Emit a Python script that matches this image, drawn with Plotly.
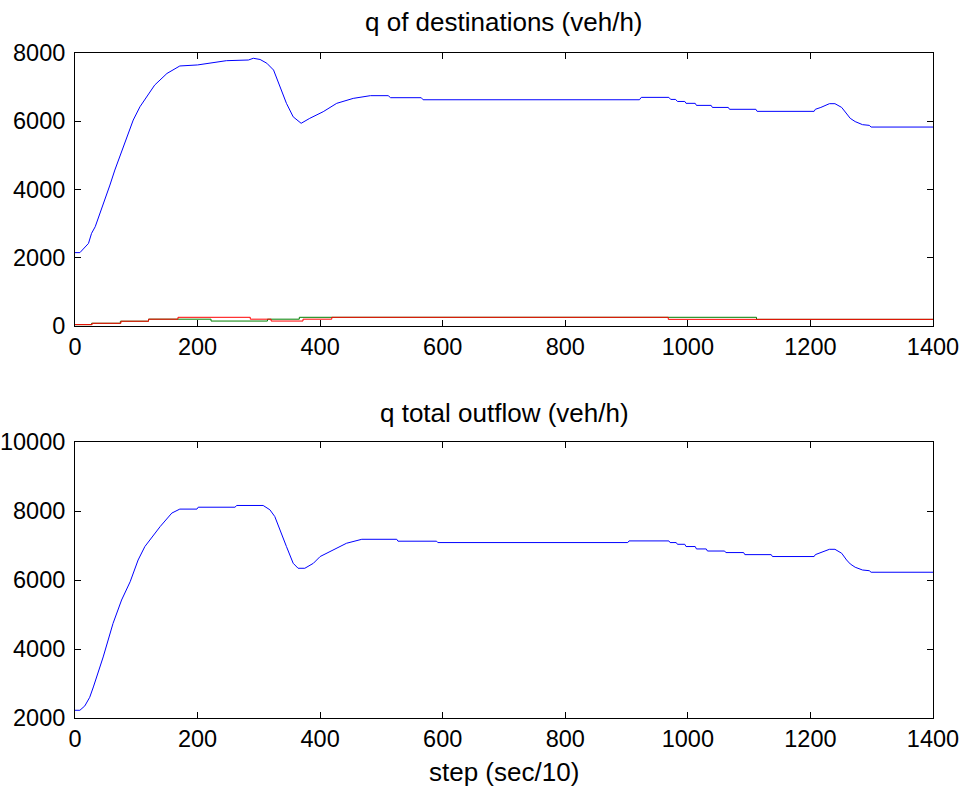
import plotly.graph_objects as go

# ---------------- data ----------------
top_blue_x = [0, 8, 22, 27, 33, 41, 49, 57, 65, 73, 79, 87, 95, 106, 117, 130, 150, 171, 200, 223,
              247, 283, 291, 302, 313, 324, 334, 345, 356, 369, 383, 405, 427, 454, 482, 511, 515,
              565, 568, 921, 924, 969, 972, 980, 983, 995, 997, 1012, 1014, 1038, 1040, 1066, 1068,
              1111, 1113, 1206, 1208, 1217, 1231, 1240, 1251, 1259, 1265, 1273, 1285, 1296, 1299, 1400]
top_blue_y = [2150, 2150, 2420, 2715, 2910, 3300, 3690, 4130, 4570, 4960, 5300, 5650, 6035, 6425, 6720,
              7060, 7400, 7620, 7650, 7715, 7775, 7795, 7845, 7810, 7700, 7500, 7010, 6525, 6130, 5940,
              6085, 6280, 6525, 6670, 6750, 6750, 6690, 6690, 6630, 6630, 6700, 6700, 6640, 6640, 6580,
              6580, 6525, 6525, 6465, 6465, 6405, 6405, 6350, 6350, 6290, 6290, 6350, 6405, 6515, 6515,
              6405, 6230, 6085, 5990, 5900, 5880, 5830, 5830]

top_green_x = [0, 27, 74, 120, 222, 314, 366, 1112, 1400]
top_green_y = [40, 80, 140, 200, 145, 200, 255, 195, 195]

top_red_x = [0, 28, 75, 120, 168, 286, 320, 372, 419, 968, 1400]
top_red_y = [40, 80, 140, 200, 255, 200, 145, 200, 255, 195, 195]

bot_x = [0, 8, 16, 24, 30, 46, 62, 76, 90, 103, 114, 130, 139, 158, 171, 199, 201, 261, 264, 307,
         318, 326, 334, 345, 356, 364, 375, 389, 400, 416, 443, 468, 525, 527, 590, 592, 902, 904,
         969, 971, 981, 983, 995, 997, 1012, 1014, 1030, 1032, 1060, 1062, 1091, 1093, 1136, 1138,
         1206, 1208, 1217, 1231, 1240, 1251, 1259, 1265, 1273, 1285, 1296, 1299, 1400]
bot_y = [2224, 2224, 2350, 2600, 2900, 3770, 4740, 5420, 5950, 6580, 6970, 7360, 7550, 7940, 8055,
         8055, 8110, 8110, 8160, 8160, 8035, 7840, 7450, 6970, 6485, 6340, 6340, 6485, 6680, 6820,
         7065, 7180, 7180, 7125, 7125, 7085, 7085, 7133, 7133, 7085, 7085, 7035, 7035, 6970, 6970,
         6900, 6900, 6840, 6840, 6795, 6795, 6735, 6735, 6680, 6680, 6735, 6805, 6890, 6890, 6775,
         6580, 6465, 6370, 6290, 6270, 6225, 6225]

x_ticks = [0, 200, 400, 600, 800, 1000, 1200, 1400]
top_y_ticks = [0, 2000, 4000, 6000, 8000]
bot_y_ticks = [2000, 4000, 6000, 8000, 10000]

title_top = "q of destinations (veh/h)"
title_bot = "q total outflow (veh/h)"
xlabel_bot = "step (sec/10)"

# ---------------- figure ----------------
FONT = "Liberation Sans, Arial, sans-serif"
TICK_SIZE = 23.5
LABEL_SIZE = 26

fig = go.Figure()
fig.add_trace(go.Scatter(x=top_blue_x, y=top_blue_y, mode="lines",
                         line=dict(color="rgb(0,0,255)", width=1), xaxis="x", yaxis="y"))
fig.add_trace(go.Scatter(x=top_green_x, y=top_green_y, mode="lines",
                         line=dict(color="rgb(0,128,0)", width=1, shape="hv"), xaxis="x", yaxis="y"))
fig.add_trace(go.Scatter(x=top_red_x, y=top_red_y, mode="lines",
                         line=dict(color="rgb(255,0,0)", width=1, shape="hv"), xaxis="x", yaxis="y"))
fig.add_trace(go.Scatter(x=bot_x, y=bot_y, mode="lines",
                         line=dict(color="rgb(0,0,255)", width=1), xaxis="x2", yaxis="y2"))

H = 792
top_px, bot_px = 53, 718
area = bot_px - top_px


def py(p):
    return (bot_px - p) / area


axis_common = dict(showgrid=False, zeroline=False, showline=True, mirror="ticks",
                   linecolor="black", linewidth=1, ticks="inside", ticklen=6,
                   tickcolor="black", tickwidth=1, automargin=False,
                   tickfont=dict(family=FONT, size=TICK_SIZE, color="black"))

fig.update_layout(
    width=967, height=H,
    margin=dict(l=75, r=34, t=top_px, b=H - bot_px),
    paper_bgcolor="white", plot_bgcolor="white",
    showlegend=False,
    xaxis=dict(domain=[0, 1], range=[0, 1400], tickvals=x_ticks,
               ticktext=[str(v) for v in x_ticks], anchor="y", **axis_common),
    yaxis=dict(domain=[py(326), 1], range=[0, 8000], tickvals=top_y_ticks,
               ticktext=[str(v) for v in top_y_ticks], anchor="x", ticklabelstandoff=4,
               **axis_common),
    xaxis2=dict(domain=[0, 1], range=[0, 1400], tickvals=x_ticks,
                ticktext=[str(v) for v in x_ticks], anchor="y2", **axis_common),
    yaxis2=dict(domain=[0, py(442)], range=[2000, 10000], tickvals=bot_y_ticks,
                ticktext=[str(v) for v in bot_y_ticks], anchor="x2", ticklabelstandoff=4,
                **axis_common),
    annotations=[
        dict(text=title_top, x=0.5, y=py(22), xref="paper", yref="paper", showarrow=False,
             xanchor="center", yanchor="middle", font=dict(family=FONT, size=LABEL_SIZE, color="black")),
        dict(text=title_bot, x=0.5, y=py(413), xref="paper", yref="paper", showarrow=False,
             xanchor="center", yanchor="middle", font=dict(family=FONT, size=LABEL_SIZE, color="black")),
        dict(text=xlabel_bot, x=0.5, y=py(772), xref="paper", yref="paper", showarrow=False,
             xanchor="center", yanchor="middle", font=dict(family=FONT, size=LABEL_SIZE, color="black")),
    ],
)

fig.write_html("out.html")
